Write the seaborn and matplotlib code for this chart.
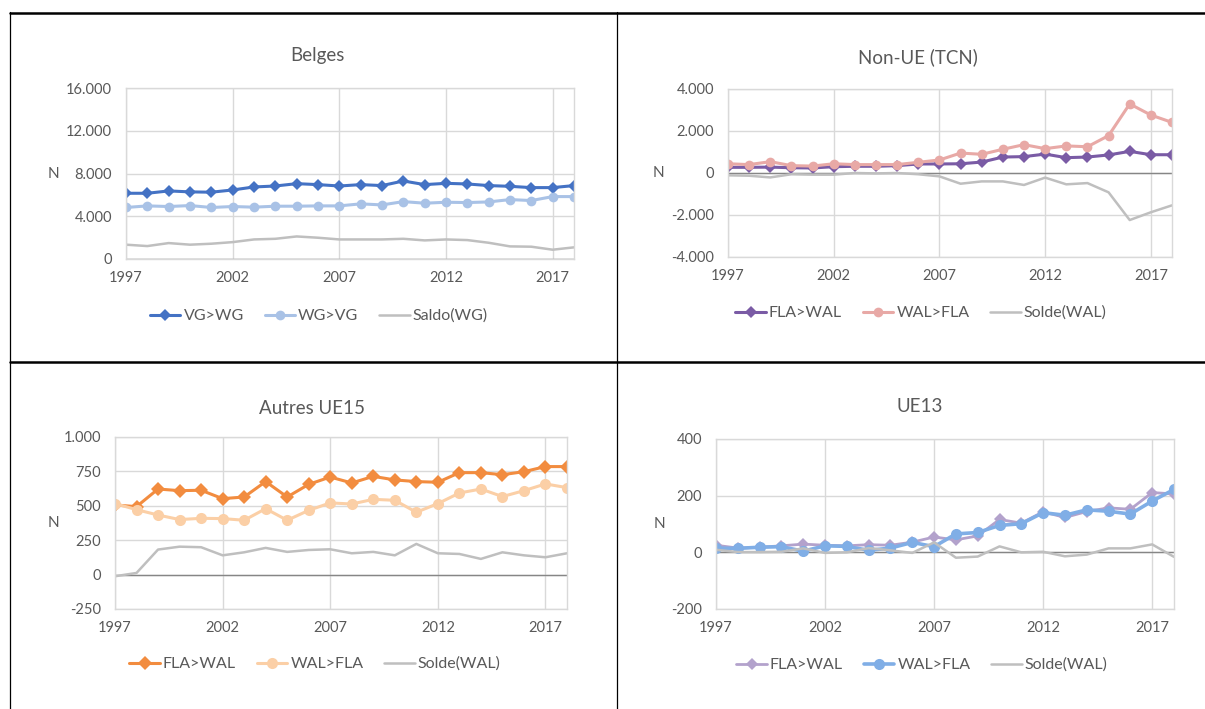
import matplotlib
matplotlib.use("Agg")
import matplotlib.pyplot as plt
from matplotlib.lines import Line2D
from matplotlib.ticker import FuncFormatter, MultipleLocator
import seaborn as sns

# ---- data ----
years = list(range(1997, 2019))
x_ticks = [1997, 2002, 2007, 2012, 2017]

# Belges
belges_vg_wg = [6150, 6150, 6370, 6280, 6250, 6460, 6740, 6830, 7050, 6960, 6830,
                6960, 6870, 7300, 6960, 7080, 7020, 6870, 6800, 6680, 6680, 6870]
belges_wg_vg = [4820, 4970, 4910, 5000, 4820, 4910, 4850, 4940, 4940, 4970, 4970,
                5160, 5060, 5370, 5220, 5310, 5280, 5340, 5560, 5470, 5840, 5840]
belges_saldo = [1340, 1210, 1490, 1340, 1430, 1580, 1830, 1890, 2110, 1990, 1830,
                1830, 1830, 1890, 1740, 1830, 1770, 1520, 1180, 1150, 870, 1090]

# Non-UE (TCN)
tcn_fla_wal = [270, 270, 280, 250, 240, 300, 320, 320, 350, 430, 430,
               440, 520, 760, 780, 900, 730, 760, 860, 1030, 870, 870]
tcn_wal_fla = [440, 400, 540, 350, 330, 440, 400, 400, 400, 510, 620,
               950, 890, 1130, 1350, 1160, 1290, 1250, 1780, 3290, 2760, 2410]
tcn_solde = [-110, -130, -210, -60, -80, -80, 0, -20, 0, -60, -160,
             -510, -400, -400, -570, -220, -540, -480, -920, -2240, -1870, -1540]

# Autres UE15
ue15_fla_wal = [506, 494, 622, 610, 613, 552, 564, 676, 564, 656, 709,
                666, 714, 688, 676, 671, 741, 741, 726, 748, 785, 785]
ue15_wal_fla = [516, 472, 433, 400, 409, 407, 395, 479, 395, 467, 521,
                513, 547, 540, 453, 516, 593, 622, 567, 610, 659, 632]
ue15_solde = [-12, 12, 182, 203, 199, 140, 162, 194, 165, 179, 184,
              155, 165, 140, 223, 155, 150, 114, 162, 140, 126, 155]

# UE13
ue13_fla_wal = [25, 15, 18, 23, 29, 25, 23, 27, 25, 36, 54,
                44, 58, 116, 103, 143, 123, 144, 157, 152, 211, 206]
ue13_wal_fla = [15, 14, 18, 20, 4, 23, 21, 7, 15, 35, 20,
                65, 70, 95, 101, 140, 131, 150, 145, 135, 181, 222]
ue13_solde = [9, 1, 1, 2, 14, -2, 0, 15, 7, -2, 35,
              -19, -15, 21, 0, 2, -14, -8, 14, 14, 28, -16]

GRAY = "#BFBFBF"
TXT = "#595959"

sns.set_theme(style="white")
plt.rcParams['font.family'] = ['Lato', 'DejaVu Sans']

W, H = 1205, 709
fig = plt.figure(figsize=(W / 100, H / 100), dpi=100)


def fig_box(l, t, r, b):
    return [l / W, 1 - b / H, (r - l) / W, (b - t) / H]


def fig_xy(x, y):
    return (x / W, 1 - y / H)


def fmt(v, pos):
    return f"{int(round(v)):,}".replace(",", ".")


panels = [
    dict(title="Belges", rect=(126, 88, 574, 259), title_xy=(317, 55),
         legend_xy=(319, 316), n_x=53, ylim=(0, 16000), step=4000,
         series=[("VG>WG", belges_vg_wg, "#4472C4", "D", 6, 2.2),
                 ("WG>VG", belges_wg_vg, "#A9C2E6", "o", 7, 2.2),
                 ("Saldo(WG)", belges_saldo, GRAY, None, 0, 1.8)]),
    dict(title="Non-UE (TCN)", rect=(728, 89, 1172, 257), title_xy=(918, 57),
         legend_xy=(921, 313), n_x=658, ylim=(-4000, 4000), step=2000,
         series=[("FLA>WAL", tcn_fla_wal, "#7A5BA5", "D", 6, 2.2),
                 ("WAL>FLA", tcn_wal_fla, "#E8A9A6", "o", 7, 2.2),
                 ("Solde(WAL)", tcn_solde, GRAY, None, 0, 1.8)]),
    dict(title="Autres UE15", rect=(115, 437, 567, 609), title_xy=(312, 408),
         legend_xy=(315, 664), n_x=53, ylim=(-250, 1000), step=250,
         series=[("FLA>WAL", ue15_fla_wal, "#F28C3F", "D", 7, 2.2),
                 ("WAL>FLA", ue15_wal_fla, "#FBCFA6", "o", 8, 2.2),
                 ("Solde(WAL)", ue15_solde, GRAY, None, 0, 1.8)]),
    dict(title="UE13", rect=(716, 439, 1174, 609), title_xy=(920, 406),
         legend_xy=(922, 665), n_x=659, ylim=(-200, 400), step=200,
         series=[("FLA>WAL", ue13_fla_wal, "#B3A2CC", "D", 6, 2.0),
                 ("WAL>FLA", ue13_wal_fla, "#80AEE6", "o", 8, 2.6),
                 ("Solde(WAL)", ue13_solde, GRAY, None, 0, 1.8)]),
]

for p in panels:
    l, t, r, b = p["rect"]
    ax = fig.add_axes(fig_box(l, t, r, b))
    ax.axhline(0, color="#868686", lw=1.0, zorder=1.5)
    for name, vals, col, mk, ms, lw in p["series"]:
        sns.lineplot(x=years, y=vals, ax=ax, color=col, marker=mk,
                     markersize=ms, markeredgewidth=0, linewidth=lw,
                     label=name, errorbar=None)
    ax.set_xlim(1997, 2018)
    ax.set_ylim(*p["ylim"])
    ax.set_xticks(x_ticks)
    ax.yaxis.set_major_locator(MultipleLocator(p["step"]))
    ax.yaxis.set_major_formatter(FuncFormatter(fmt))
    ax.grid(True, color="#D9D9D9", lw=1.0, zorder=0)
    ax.set_axisbelow(True)
    for s in ax.spines.values():
        s.set_color("#D9D9D9")
        s.set_linewidth(1.0)
    ax.tick_params(length=0, labelsize=10.5, colors=TXT)
    ax.tick_params(axis="x", pad=9)
    ax.tick_params(axis="y", pad=10)
    ax.set_xlabel("")
    ax.set_ylabel("N", rotation=0, fontsize=11, color=TXT, va="center", ha="center")
    ax.yaxis.set_label_coords((p["n_x"] - l) / (r - l), 0.5)
    handles, labels = ax.get_legend_handles_labels()
    ax.get_legend().remove()
    fig.legend(handles, labels, loc="center", bbox_to_anchor=fig_xy(*p["legend_xy"]),
               ncol=3, frameon=False, fontsize=11.5, labelcolor=TXT,
               handlelength=1.9, handletextpad=0.2, columnspacing=1.3)
    fig.text(*fig_xy(*p["title_xy"]), p["title"], ha="center", va="center",
             fontsize=13.5, color=TXT)

# table borders around the four charts
fig.add_artist(Line2D([10 / W, 1], [1 - 12.5 / H] * 2, color="black", lw=1.8))
fig.add_artist(Line2D([10 / W, 1], [1 - 362 / H] * 2, color="black", lw=1.8))
fig.add_artist(Line2D([10 / W] * 2, [0, 1 - 12 / H], color="black", lw=0.9))
fig.add_artist(Line2D([617 / W] * 2, [0, 1 - 12 / H], color="black", lw=0.9))

fig.savefig("out.png", dpi=100)
